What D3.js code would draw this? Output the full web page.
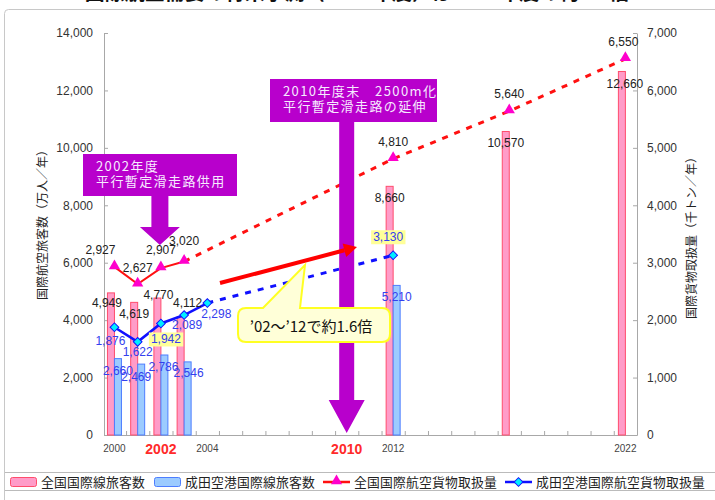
<!DOCTYPE html>
<html>
<head>
<meta charset="utf-8">
<script src="https://cdn.jsdelivr.net/npm/d3@7"></script>
<style>
  body { margin: 0; background: #fff; }
  svg { display: block; }
  text { font-family: "Liberation Sans", Arial, "Noto Sans CJK JP", sans-serif; }
  .jp { font-family: "Noto Sans CJK JP", "Liberation Sans", sans-serif; }
</style>
</head>
<body>
<script>
// data
const pax_years = [2000, 2001, 2002, 2003, 2012, 2017, 2022];
const pax_japan = [4949, 4619, 4770, 4112, 8660, 10570, 12660];
const narita_pax_years = [2000, 2001, 2002, 2003, 2012];
const pax_narita = [2660, 2469, 2786, 2546, 5210];
const cargo_japan_years = [2000, 2001, 2002, 2003, 2012, 2017, 2022];
const cargo_japan = [2927, 2627, 2907, 3020, 4810, 5640, 6550];
const cargo_narita_years = [2000, 2001, 2002, 2003, 2004, 2012];
const cargo_narita = [1876, 1622, 1942, 2089, 2298, 3130];
const cargo_japan_last_actual = 2003;
const cargo_narita_last_actual = 2004;

const left_ticks = [0, 2000, 4000, 6000, 8000, 10000, 12000, 14000];
const right_ticks = [0, 1000, 2000, 3000, 4000, 5000, 6000, 7000];
const year_labels_small = [2000, 2004, 2012, 2022];
const year_labels_big = [2002, 2010];
const legend_names = ["全国国際線旅客数", "成田空港国際線旅客数", "全国国際航空貨物取扱量", "成田空港国際航空貨物取扱量"];

// label nudges (px) so the numbers sit where the original put them
const pax_japan_off = [[-4, 10], [0, 12], [1, -3], [7, -14], [0, 12], [0, 12], [3, 13]];
const pax_narita_off = [[0, 12], [-5, 13], [-1, 12], [1, 11], [0, 12]];
const cargo_japan_off = [[-14, -17], [0, -16], [0, -18], [0, -21], [0, -17], [0, -17], [-2, -17]];
const cargo_narita_off = [[-4, 14], [0, 10], [5, 16], [3, 10], [9, 11], [-5, -18]];
const highlighted = [2002, 2012];

const W = 715, H = 500;
const fmt = d3.format(",");
const x = d3.scaleLinear().domain([1999.55, 2022.5]).range([104, 637]);
const yL = d3.scaleLinear().domain([0, 14000]).range([435, 33]);
const yR = d3.scaleLinear().domain([0, 7000]).range([435, 33]);
const barW = 7;

const svg = d3.select("body").append("svg")
    .attr("width", W)
    .attr("height", H);

// title, mostly cut off at the top
svg.append("text")
    .attr("class", "jp")
    .attr("x", 357).attr("y", 0)
    .attr("text-anchor", "middle")
    .attr("font-size", 20).attr("font-weight", "bold")
    .attr("fill", "#111")
    .text("国際航空需要の将来予測（2022年度）は2012年度の約1.5倍");

// frame
svg.append("rect")
    .attr("x", 4.5).attr("y", 9.5)
    .attr("width", 730).attr("height", 520)
    .attr("rx", 4)
    .attr("fill", "none")
    .attr("stroke", "#c8c8c8");

// axes
const axL = svg.append("g")
    .attr("transform", "translate(104,0)")
    .call(d3.axisLeft(yL).tickValues(left_ticks).tickSize(-4).tickSizeOuter(0).tickPadding(11).tickFormat(fmt));
const axR = svg.append("g")
    .attr("transform", "translate(637,0)")
    .call(d3.axisRight(yR).tickValues(right_ticks).tickSize(-4).tickSizeOuter(0).tickPadding(10).tickFormat(fmt));
const axB = svg.append("g")
    .attr("transform", "translate(0,435)")
    .call(d3.axisBottom(x).tickValues(d3.range(2000.5, 2022.5, 1)).tickSize(-4).tickSizeOuter(0).tickFormat(""));
[axL, axR, axB].forEach(function(g) {
  g.selectAll("path, line").attr("stroke", "#a8a8a8");
  g.selectAll("text").attr("font-size", 12).attr("fill", "#333");
});

svg.selectAll(".ylab-s")
    .data(year_labels_small)
  .enter().append("text")
    .attr("x", function(d) { return x(d); })
    .attr("y", 452)
    .attr("text-anchor", "middle")
    .attr("font-size", 10)
    .attr("fill", "#444")
    .text(function(d) { return d; });
svg.selectAll(".ylab-b")
    .data(year_labels_big)
  .enter().append("text")
    .attr("x", function(d) { return x(d); })
    .attr("y", 454)
    .attr("text-anchor", "middle")
    .attr("font-size", 14).attr("font-weight", "bold")
    .attr("fill", "#ff2a2a")
    .text(function(d) { return d; });

// axis titles
svg.append("text")
    .attr("class", "jp")
    .attr("transform", "translate(47,222) rotate(-90)")
    .attr("text-anchor", "middle")
    .attr("font-size", 12)
    .attr("fill", "#222")
    .text("国際航空旅客数（万人／年）");
svg.append("text")
    .attr("class", "jp")
    .attr("transform", "translate(696,235) rotate(-90)")
    .attr("text-anchor", "middle")
    .attr("font-size", 12)
    .attr("fill", "#222")
    .text("国際貨物取扱量（千トン／年）");

// bars
svg.selectAll(".bar-jp")
    .data(pax_japan)
  .enter().append("rect")
    .attr("x", function(d, i) { return x(pax_years[i]) - barW; })
    .attr("y", function(d) { return yL(d); })
    .attr("width", barW)
    .attr("height", function(d) { return yL(0) - yL(d); })
    .attr("fill", "#ff9cc8")
    .attr("stroke", "#ff4d6d")
    .attr("stroke-width", 1);
svg.selectAll(".bar-nrt")
    .data(pax_narita)
  .enter().append("rect")
    .attr("x", function(d, i) { return x(narita_pax_years[i]); })
    .attr("y", function(d) { return yL(d); })
    .attr("width", barW)
    .attr("height", function(d) { return yL(0) - yL(d); })
    .attr("fill", "#9ccbff")
    .attr("stroke", "#4d7dff")
    .attr("stroke-width", 1);

// cargo lines
function pts(years, vals) {
  return vals.map(function(v, i) { return {year: years[i], val: v}; });
}
const cj = pts(cargo_japan_years, cargo_japan);
const cn = pts(cargo_narita_years, cargo_narita);
const line = d3.line()
    .x(function(d) { return x(d.year); })
    .y(function(d) { return yR(d.val); });

svg.append("path")
    .attr("d", line(cj.filter(function(d) { return d.year >= cargo_japan_last_actual; })))
    .attr("fill", "none").attr("stroke", "#ff1010")
    .attr("stroke-width", 3).attr("stroke-dasharray", "6,7");
svg.append("path")
    .attr("d", line(cj.filter(function(d) { return d.year <= cargo_japan_last_actual; })))
    .attr("fill", "none").attr("stroke", "#ff1010").attr("stroke-width", 2);
svg.append("path")
    .attr("d", line(cn.filter(function(d) { return d.year >= cargo_narita_last_actual; })))
    .attr("fill", "none").attr("stroke", "#1010ff")
    .attr("stroke-width", 3).attr("stroke-dasharray", "6,7");
svg.append("path")
    .attr("d", line(cn.filter(function(d) { return d.year <= cargo_narita_last_actual; })))
    .attr("fill", "none").attr("stroke", "#1010ff").attr("stroke-width", 2.5);

svg.selectAll(".tri")
    .data(cj)
  .enter().append("path")
    .attr("transform", function(d) { return "translate(" + x(d.year) + "," + (yR(d.val) - 1) + ")"; })
    .attr("d", d3.symbol().type(d3.symbolTriangle).size(55))
    .attr("fill", "#ff00cc");
svg.selectAll(".dia")
    .data(cn)
  .enter().append("path")
    .attr("transform", function(d) { return "translate(" + x(d.year) + "," + yR(d.val) + ") rotate(45)"; })
    .attr("d", d3.symbol().type(d3.symbolSquare).size(38))
    .attr("fill", "#00eeff")
    .attr("stroke", "#1010ff").attr("stroke-width", 1);

// annotations: purple boxes with arrows
const purple = "#b800cc";
function box_arrow(bx, by, bw, bh, cx, stemW, headY, headW, tipY, lines) {
  const p = d3.path();
  p.moveTo(bx, by); p.lineTo(bx + bw, by); p.lineTo(bx + bw, by + bh);
  p.lineTo(cx + stemW / 2, by + bh); p.lineTo(cx + stemW / 2, headY);
  p.lineTo(cx + headW / 2, headY); p.lineTo(cx, tipY); p.lineTo(cx - headW / 2, headY);
  p.lineTo(cx - stemW / 2, headY); p.lineTo(cx - stemW / 2, by + bh);
  p.lineTo(bx, by + bh); p.closePath();
  svg.append("path").attr("d", p.toString()).attr("fill", purple);
  lines.forEach(function(t, i) {
    svg.append("text")
        .attr("class", "jp")
        .attr("x", bx + 13).attr("y", by + 17 + i * 15)
        .attr("font-size", 13)
        .attr("letter-spacing", 1.4)
        .attr("fill", "#f6eaff")
        .text(t);
  });
}
box_arrow(83, 154, 154, 42, x(2002) - 1, 17, 227, 40, 245, ["2002年度", "平行暫定滑走路供用"]);
box_arrow(270, 79, 167, 43, x(2010), 15, 400, 36, 433, ["2010年度末\u30002500m化", "平行暫定滑走路の延伸"]);

// red growth arrow
const a0 = [220, 283], a1 = [357, 247];
const ang = Math.atan2(a1[1] - a0[1], a1[0] - a0[0]);
const hl = 13, hw = 7;
const base = [a1[0] - hl * Math.cos(ang), a1[1] - hl * Math.sin(ang)];
svg.append("line")
    .attr("x1", a0[0]).attr("y1", a0[1])
    .attr("x2", base[0]).attr("y2", base[1])
    .attr("stroke", "#ff0000").attr("stroke-width", 4);
svg.append("path")
    .attr("d", "M" + a1 + "L" + [base[0] + hw * Math.sin(ang), base[1] - hw * Math.cos(ang)] +
               "L" + [base[0] - hw * Math.sin(ang), base[1] + hw * Math.cos(ang)] + "Z")
    .attr("fill", "#ff0000");

// yellow callout
const cb = d3.path();
cb.moveTo(246, 308); cb.lineTo(263, 308); cb.lineTo(305, 265); cb.lineTo(300, 308);
cb.lineTo(382, 308); cb.quadraticCurveTo(390, 308, 390, 316);
cb.lineTo(390, 334); cb.quadraticCurveTo(390, 342, 382, 342);
cb.lineTo(246, 342); cb.quadraticCurveTo(238, 342, 238, 334);
cb.lineTo(238, 316); cb.quadraticCurveTo(238, 308, 246, 308); cb.closePath();
svg.append("path").attr("d", cb.toString())
    .attr("fill", "#ffffd8").attr("stroke", "#ffff22").attr("stroke-width", 2);
svg.append("text")
    .attr("class", "jp")
    .attr("x", 311).attr("y", 332)
    .attr("text-anchor", "middle")
    .attr("font-size", 15)
    .attr("fill", "#111")
    .text("’02～’12で約1.6倍");

// value labels
function labels(data, years, offs, ys, xoff, color, hl_years) {
  data.forEach(function(v, i) {
    const cx = x(years[i]) + xoff + offs[i][0];
    const cy = ys(v) + offs[i][1];
    const t = svg.append("text")
        .attr("x", cx).attr("y", cy + 4)
        .attr("text-anchor", "middle")
        .attr("font-size", 12)
        .attr("fill", color)
        .text(fmt(v));
    if (hl_years && hl_years.indexOf(years[i]) >= 0) {
      const bb = t.node().getBBox();
      svg.insert("rect", function() { return t.node(); })
          .attr("x", bb.x - 2).attr("y", bb.y)
          .attr("width", bb.width + 4).attr("height", bb.height)
          .attr("fill", "#ffff99");
    }
  });
}
labels(pax_japan, pax_years, pax_japan_off, yL, -barW / 2, "#222");
labels(pax_narita, narita_pax_years, pax_narita_off, yL, barW / 2, "#3340ee");
labels(cargo_japan, cargo_japan_years, cargo_japan_off, yR, 0, "#222");
labels(cargo_narita, cargo_narita_years, cargo_narita_off, yR, 0, "#3340ee", highlighted);

// legend
svg.append("line").attr("x1", 5).attr("x2", W).attr("y1", 472.5).attr("y2", 472.5).attr("stroke", "#bbb");
svg.append("line").attr("x1", 5).attr("x2", W).attr("y1", 490.5).attr("y2", 490.5).attr("stroke", "#bbb");
const leg_x = [10, 154, 323, 505];
legend_names.forEach(function(name, i) {
  const g = svg.append("g").attr("transform", "translate(" + leg_x[i] + ",482)");
  if (i < 2) {
    g.append("rect").attr("x", 0.5).attr("y", -4.5).attr("width", 26).attr("height", 9).attr("rx", 2)
        .attr("fill", i == 0 ? "#ff9cc8" : "#9ccbff")
        .attr("stroke", i == 0 ? "#ff4d6d" : "#4d7dff");
  } else {
    g.append("line").attr("x1", 0).attr("x2", 27).attr("y1", 0).attr("y2", 0)
        .attr("stroke", i == 2 ? "#ff1010" : "#1010ff").attr("stroke-width", 2.5);
    if (i == 2) {
      g.append("path").attr("transform", "translate(13.5,-1)")
          .attr("d", d3.symbol().type(d3.symbolTriangle).size(55)).attr("fill", "#ff00cc");
    } else {
      g.append("path").attr("transform", "translate(13.5,0) rotate(45)")
          .attr("d", d3.symbol().type(d3.symbolSquare).size(38))
          .attr("fill", "#00eeff").attr("stroke", "#1010ff");
    }
  }
  g.append("text")
      .attr("class", "jp")
      .attr("x", 31).attr("y", 5)
      .attr("font-size", 12.8)
      .attr("letter-spacing", 0.2)
      .attr("fill", "#222")
      .text(name);
});
</script>
</body>
</html>
